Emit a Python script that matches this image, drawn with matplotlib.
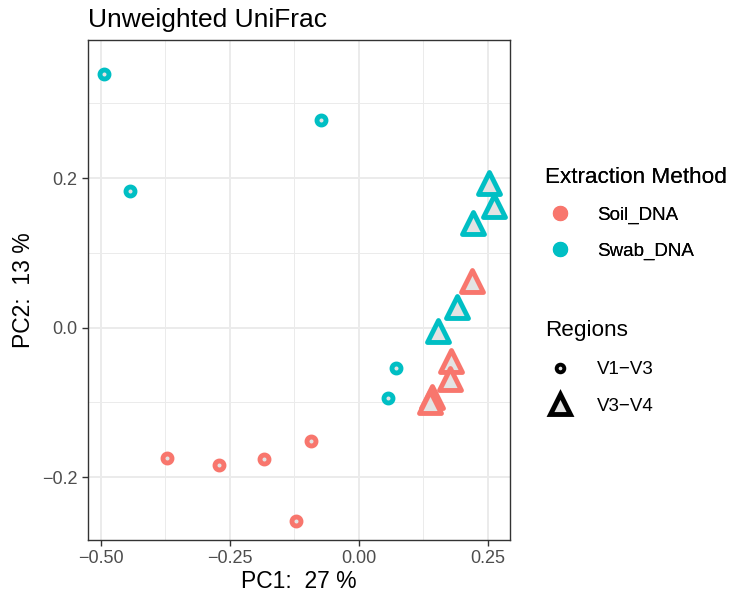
import numpy as np
import matplotlib.pyplot as plt
from matplotlib.lines import Line2D

plt.rcParams['font.family'] = ['Liberation Sans', 'DejaVu Sans']

# PCoA coordinates
soil_v13_x = [-0.372, -0.271, -0.184, -0.093, -0.122]
soil_v13_y = [-0.174, -0.183, -0.175, -0.152, -0.258]
swab_v13_x = [-0.494, -0.444, -0.074, 0.072, 0.056]
swab_v13_y = [0.339, 0.183, 0.278, -0.054, -0.094]
soil_v34_x = [0.219, 0.178, 0.176, 0.141, 0.137]
soil_v34_y = [0.063, -0.044, -0.068, -0.093, -0.100]
swab_v34_x = [0.252, 0.262, 0.221, 0.190, 0.153]
swab_v34_y = [0.194, 0.163, 0.140, 0.028, -0.005]

methods = ['Soil_DNA', 'Swab_DNA']
regions = ['V1\u2212V3', 'V3\u2212V4']
colors = ['#F8766D', '#00BFC4']

fig = plt.figure(figsize=(7.34, 5.95), dpi=100)
ax = fig.add_axes([0.12, 0.0924, 0.575, 0.8406])

fill = '#E3E3E3'
ax.scatter(soil_v13_x, soil_v13_y, s=42, marker='o', facecolor=fill, edgecolor=colors[0], linewidth=3.5, zorder=3)
ax.scatter(swab_v13_x, swab_v13_y, s=42, marker='o', facecolor=fill, edgecolor=colors[1], linewidth=3.5, zorder=3)
ax.scatter(soil_v34_x, soil_v34_y, s=250, marker='^', facecolor=fill, edgecolor=colors[0], linewidth=3.5, zorder=3)
ax.scatter(swab_v34_x, swab_v34_y, s=250, marker='^', facecolor=fill, edgecolor=colors[1], linewidth=3.5, zorder=3)

ax.set_xlim(-0.525, 0.293)
ax.set_ylim(-0.284, 0.385)
ax.set_xticks([-0.5, -0.25, 0, 0.25])
ax.set_xticklabels(['\u22120.50', '\u22120.25', '0.00', '0.25'])
ax.set_yticks([-0.2, 0, 0.2])
ax.set_yticklabels(['\u22120.2', '0.0', '0.2'])
ax.set_xticks([-0.375, -0.125, 0.125], minor=True)
ax.set_yticks([-0.1, 0.1, 0.3], minor=True)
ax.grid(which='major', color='#EBEBEB', linewidth=1.4)
ax.grid(which='minor', color='#EBEBEB', linewidth=0.7)
ax.set_axisbelow(True)
ax.tick_params(which='major', labelsize=13, labelcolor='#4D4D4D', color='#333333', length=4, width=1)
ax.tick_params(which='minor', length=0)
for s in ax.spines.values():
    s.set_color('#333333')
    s.set_linewidth(1)

ax.set_xlabel('PC1:  27 %', fontsize=16.5, labelpad=2)
ax.set_ylabel('PC2:  13 %', fontsize=16.5, labelpad=5)
ax.set_title('Unweighted UniFrac', fontsize=19, loc='left', pad=9)

h1 = [Line2D([], [], marker='o', linestyle='', markersize=10, markerfacecolor=c, markeredgecolor=c) for c in colors]
leg1 = fig.legend(h1, methods, title='Extraction Method', loc='upper left', bbox_to_anchor=(0.72, 0.748),
                  frameon=False, fontsize=13.5, title_fontsize=16.2, alignment='left', handletextpad=1.15,
                  labelspacing=1.0, handlelength=1.6)
fig.add_artist(leg1)
h2 = [Line2D([], [], marker='o', linestyle='', markersize=5.5, markerfacecolor=fill, markeredgecolor='black', markeredgewidth=2.8),
      Line2D([], [], marker='^', linestyle='', markersize=15, markerfacecolor=fill, markeredgecolor='black', markeredgewidth=3.5)]
fig.legend(h2, regions, title='Regions', loc='upper left', bbox_to_anchor=(0.72, 0.49),
           frameon=False, fontsize=13.5, title_fontsize=16.2, alignment='left', handletextpad=1.15,
           labelspacing=1.05, handlelength=1.6)

plt.savefig('out.png', dpi=100)
